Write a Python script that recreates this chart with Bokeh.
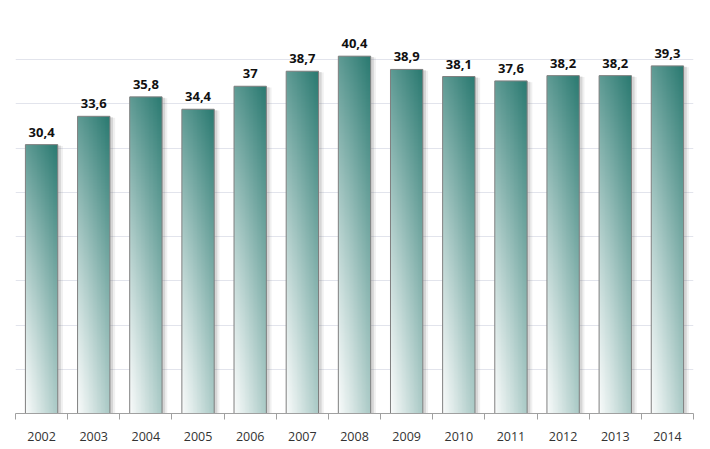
import numpy as np
from bokeh.plotting import figure
from bokeh.models import FixedTicker, CustomJSTickFormatter, Range1d, ColumnDataSource
from bokeh.core.properties import value
from bokeh.embed import file_html
from bokeh.resources import INLINE

# ---- data ----
years = ["2002", "2003", "2004", "2005", "2006", "2007", "2008",
         "2009", "2010", "2011", "2012", "2013", "2014"]
values = [30.4, 33.6, 35.8, 34.4, 37.0, 38.7, 40.4, 38.9, 38.1, 37.6, 38.2, 38.2, 39.3]
labels = ["30,4", "33,6", "35,8", "34,4", "37", "38,7", "40,4",
          "38,9", "38,1", "37,6", "38,2", "38,2", "39,3"]

n = len(years)
centers = [i + 0.5 for i in range(n)]
bar_w = 0.62

p = figure(width=710, height=449, output_backend="svg", toolbar_location=None,
           x_range=Range1d(0, n), y_range=Range1d(0, 45),
           min_border_left=15, min_border_right=17, min_border_top=15, min_border_bottom=36)
p.outline_line_color = None
p.background_fill_color = "white"
p.border_fill_color = "white"

# grid
p.xgrid.visible = False
p.ygrid.ticker = FixedTicker(ticks=list(range(5, 46, 5)))
p.ygrid.grid_line_color = "#e2e4ec"
p.ygrid.grid_line_width = 1
p.yaxis.visible = False

# shadows
left = [c - bar_w / 2 for c in centers]
right = [c + bar_w / 2 for c in centers]
p.quad(left=[l + 0.05 for l in left], right=[r + 0.1 for r in right], bottom=0,
       top=[v - 0.15 for v in values], fill_color="#808080", fill_alpha=0.12, line_color=None)
p.quad(left=[l + 0.04 for l in left], right=[r + 0.06 for r in right], bottom=0,
       top=[v - 0.1 for v in values], fill_color="#707070", fill_alpha=0.2, line_color=None)

# gradient bars
dark = np.array([42, 122, 113], dtype=float)
white = np.array([255, 255, 255], dtype=float)
H, W = 400, 40
fy = np.linspace(0, 1, H)[:, None]
fx = np.linspace(0, 1, W)[None, :]
t = (1 - fx) * (0.03 + 0.72 * fy ** 1.3) + fx * (0.40 + 0.60 * fy ** 1.2)
t = np.clip(t, 0, 1)
img = np.empty((H, W), dtype=np.uint32)
view = img.view(dtype=np.uint8).reshape((H, W, 4))
for k in range(3):
    view[:, :, k] = (white[k] + (dark[k] - white[k]) * t).astype(np.uint8)
view[:, :, 3] = 255

p.image_rgba(image=[img] * n, x=left, y=[0] * n, dw=[bar_w] * n, dh=values)
p.quad(left=left, right=right, bottom=0, top=values, fill_alpha=0,
       line_color="#7f7f7f", line_width=1)

# value labels
src = ColumnDataSource(dict(x=centers, y=values, t=labels))
p.text(x="x", y="y", text="t", source=src, y_offset=-8, text_align="center",
       text_baseline="bottom", text_font=value("Open Sans"), text_font_style="bold",
       text_font_size="13px", text_color="#111111")

# x axis
ax = p.xaxis[0]
ax.ticker = FixedTicker(ticks=centers, minor_ticks=list(range(0, n + 1)))
ax.formatter = CustomJSTickFormatter(args=dict(years=years),
                                     code="return years[Math.floor(tick)];")
ax.major_tick_out = 0
ax.major_tick_in = 0
ax.minor_tick_out = 6
ax.minor_tick_in = 0
ax.minor_tick_line_color = "#a0a0a0"
ax.axis_line_color = "#a0a0a0"
ax.major_label_standoff = 12
ax.major_label_text_font = "Open Sans"
ax.major_label_text_font_size = "12.5px"
ax.major_label_text_color = "#333333"

open("out.html", "w").write(file_html(p, INLINE))
